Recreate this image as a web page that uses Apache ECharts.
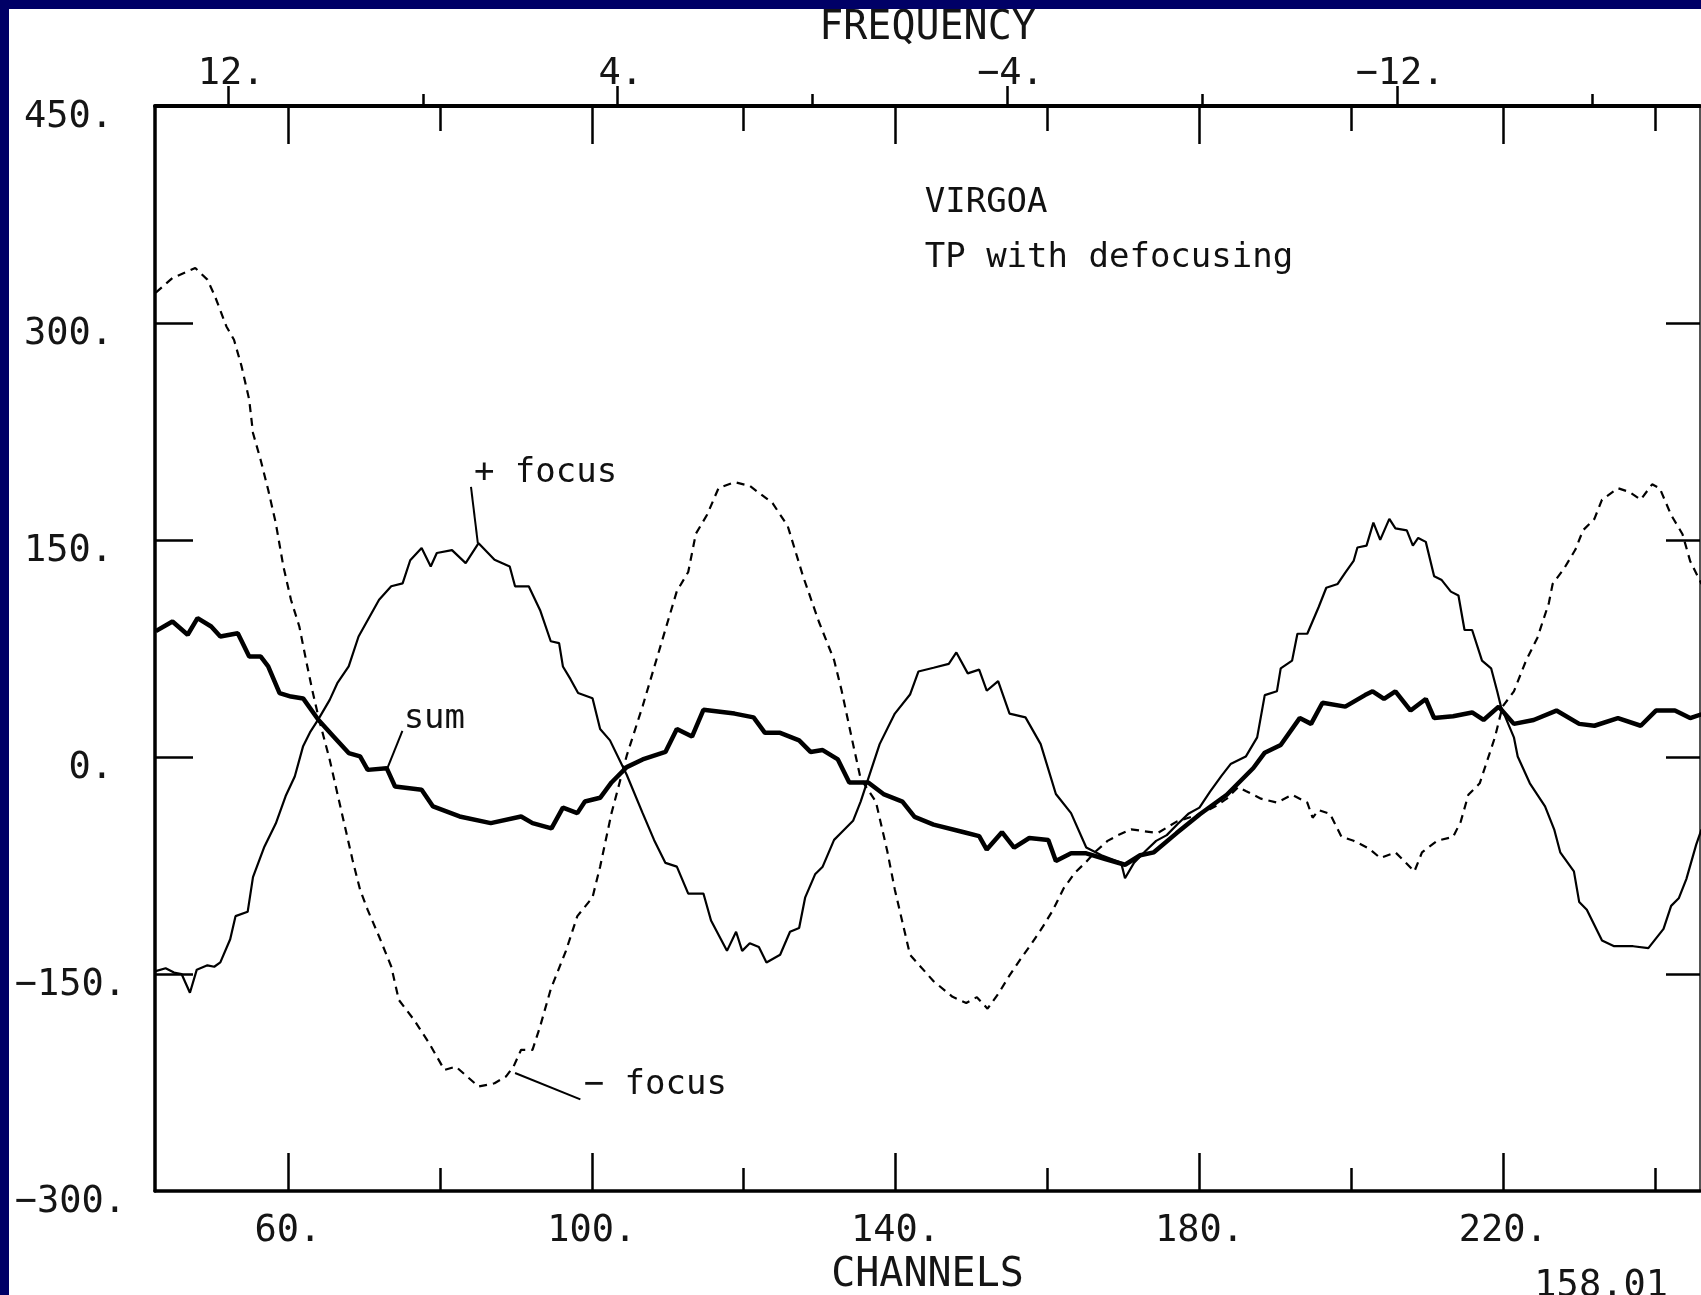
<!DOCTYPE html>
<html><head><meta charset="utf-8">
<script src="https://cdn.jsdelivr.net/npm/echarts@6/dist/echarts.min.js"></script>
<style>
html,body{margin:0;padding:0;background:#000066;width:1701px;height:1295px;overflow:hidden}
#c{position:absolute;left:9px;top:9px;width:1692px;height:1286px;background:#fff}
</style></head><body><div id="c"></div>
<script>
// ---- tick / label values ----
const channelMajor = [60, 100, 140, 180, 220];
const channelMinor = [80, 120, 160, 200, 240];
const freqMajor = [12, 4, -4, -12];
const freqMinor = [8, 0, -8, -16];
const yTicks = [-150, 0, 150, 300];
const yLabelsPos = [0, 150, 300, 450];
const yLabelsNeg = [-300, -150];
const channelRange = [42.5, 245.9];
const freqRange = [-18.22, 13.5];
const valueRange = [-300, 450];

// ---- series: [channel, value] ----
const plusFocus = [[42.6,-148],[43.9,-146],[45.0,-149],[46.0,-150],[47.1,-163],[48.0,-147],[49.4,-144],[50.3,-145],[51.1,-142],[52.4,-126],[53.1,-110],[54.7,-107],[55.4,-83],[56.9,-62],[58.4,-46],[59.7,-27],[60.9,-13.5],[62.0,7.5],[62.9,17],[64.0,26],[65.5,39.5],[66.5,51],[68.0,62.6],[69.3,83.3],[72.0,108.7],[73.6,118],[75.1,120],[76.1,136],[77.6,144.4],[78.8,131.7],[79.6,141],[81.6,143],[83.4,134],[85.1,147.8],[87.2,136.3],[89.2,131.7],[89.9,118],[91.7,118],[93.2,101.5],[94.6,80],[95.7,78.7],[96.2,62.6],[97.2,53.8],[98.2,44.2],[100.1,40.6],[101.1,19.4],[102.4,11.5],[104.6,-12.3],[106.7,-38.8],[108.2,-57.3],[109.7,-73.2],[111.2,-75.8],[112.7,-94.4],[114.7,-94.4],[115.7,-113],[117.8,-134],[119.0,-120.8],[119.8,-134],[120.8,-128.7],[122.0,-131.4],[123.0,-142],[124.8,-136.7],[126.1,-120.8],[127.3,-118.2],[128.1,-97],[129.4,-81.1],[130.4,-75.8],[131.9,-57.3],[132.9,-52],[134.4,-44.1],[135.4,-30.8],[136.4,-15],[137.9,8.9],[139.9,30],[141.9,43.2],[143.0,59.1],[145.0,61.7],[147.0,64.4],[148.0,72.3],[149.5,57.8],[151.0,60.4],[152.0,45.8],[153.5,52.5],[155.0,30],[157.1,27.4],[159.1,8.9],[161.1,-25.6],[163.1,-38.8],[165.1,-62.6],[167.1,-67.9],[169.7,-73.2],[170.2,-83.8],[171.4,-73],[172.9,-65],[174.3,-58],[175.7,-54],[177.1,-46.5],[178.6,-39],[180.0,-35],[181.4,-24],[182.9,-13],[184.1,-4.9],[186.1,0.3],[187.6,13.6],[188.6,42.8],[190.2,45.4],[190.7,61.3],[192.2,66.6],[192.9,85.2],[194.2,85.2],[195.7,103.7],[196.7,117.0],[198.2,119.6],[199.2,127.5],[200.3,135.5],[200.8,144.8],[202.0,146.1],[202.9,162.0],[203.8,150.1],[205.0,164.6],[205.8,158.0],[207.3,156.7],[208.1,146.1],[208.8,151.4],[209.8,148.7],[210.9,124.9],[211.9,122.3],[213.1,114.3],[214.1,111.6],[214.9,87.8],[215.9,87.8],[217.2,66.6],[218.4,61.3],[219.2,45.4],[219.7,34.8],[221.4,13.6],[221.9,0.3],[223.5,-18.2],[225.5,-34.1],[226.7,-50.0],[227.5,-65.9],[229.3,-79.1],[230.0,-100.3],[231.0,-105.6],[233.0,-126.8],[234.6,-130.8],[237.1,-130.8],[239.1,-132.1],[241.1,-118.8],[242.1,-102.9],[243.1,-97.7],[244.1,-84.4],[245.4,-60.6],[246.1,-50.0]];

const minusFocus = [[42.6,321],[44.8,331.1],[47.8,338],[49.4,330],[50.4,318.4],[51.9,297.6],[52.9,288.4],[53.9,270],[54.9,247],[55.4,224],[56.4,205.5],[57.4,184.7],[58.4,161.7],[59.4,131.7],[60.4,108.7],[61.5,90.2],[62.5,64],[63.2,46.4],[64.0,28],[65.5,-1.9],[66.5,-25],[67.5,-48],[68.5,-71],[69.5,-91.8],[70.5,-105.7],[72.0,-124.1],[73.6,-144.8],[74.6,-167.9],[76.6,-181.7],[78.6,-197.9],[80.6,-216.3],[82.1,-214],[85.1,-227.8],[87.2,-225.5],[88.7,-220.9],[89.7,-214],[90.7,-202.4],[92.2,-202.4],[93.2,-186.3],[94.6,-160.5],[96.6,-134],[98.1,-110],[100.1,-97],[101.1,-75.8],[102.6,-38.8],[104.6,0.9],[106.7,35.2],[108.2,61.7],[109.7,88.2],[111.2,114.6],[112.7,127.9],[113.7,154.3],[115.2,167.6],[116.7,186],[118.8,190],[120.8,187.4],[123.8,175.5],[125.8,159.6],[127.8,125.2],[129.9,93.5],[131.9,67],[132.9,45.8],[134.4,8.9],[135.4,-15],[137.4,-30.8],[138.9,-65],[139.9,-91.7],[141.9,-136.7],[145.0,-155],[147.5,-165.8],[149.3,-170],[150.7,-166],[152.1,-174],[153.6,-163],[155.0,-151],[156.4,-140],[157.9,-129],[159.3,-118],[160.7,-106],[162.1,-91],[163.6,-80],[165.0,-73],[166.4,-65],[167.9,-58],[169.3,-54],[171.0,-50],[174.5,-52.6],[177.0,-44.7],[180.1,-39.4],[182.1,-34.1],[183.6,-28.8],[185.1,-20.8],[186.1,-23.5],[188.1,-28.8],[190.2,-31.5],[192.2,-26.1],[194.2,-31.5],[194.9,-42.0],[195.7,-36.7],[197.2,-39.4],[198.7,-55.2],[200.3,-57.9],[202.3,-63.2],[203.8,-69.8],[205.8,-65.9],[206.8,-71.1],[208.3,-79.1],[209.3,-65.9],[211.3,-57.9],[213.4,-55.2],[214.4,-44.7],[215.4,-26.1],[216.9,-18.2],[217.9,-2.3],[218.9,13.6],[219.9,34.8],[221.4,45.4],[223.0,66.6],[224.5,82.5],[226.0,106.4],[226.5,119.6],[228.0,130.2],[229.5,143.4],[230.5,156.7],[232.0,164.6],[233.0,177.9],[235.1,185.8],[236.6,183.2],[238.1,177.9],[239.6,188.5],[240.6,185.8],[242.1,167.3],[243.6,154.0],[244.6,135.5],[246.1,119.6]];

const sumCurve = [[42.6,87],[44.8,93.7],[46.8,84.5],[48.1,96],[49.9,90.2],[51.1,83.3],[53.4,85.6],[54.9,69.5],[56.4,69.5],[57.4,62.6],[58.9,44.2],[60.4,41.8],[62.0,40.5],[64.0,25.7],[66.0,14.2],[68.0,2.7],[69.5,0.4],[70.5,-8.9],[73.0,-7.7],[74.1,-20.4],[77.6,-22.7],[79.1,-34.2],[82.6,-41.1],[86.7,-45.7],[90.7,-41.1],[92.2,-45.7],[94.7,-49.3],[96.2,-35],[98.1,-38.8],[99.1,-30.8],[101.1,-28.2],[102.6,-17.6],[104.6,-7],[106.7,-1.7],[109.7,3.5],[111.2,19.4],[113.2,14.1],[114.7,32.6],[118.8,30],[121.3,27.4],[122.8,16.7],[124.8,16.7],[127.3,11.5],[128.8,3.5],[130.4,4.8],[132.4,-1.7],[133.9,-17.6],[136.4,-17.6],[138.4,-25.6],[140.9,-30.8],[142.5,-41.4],[145.0,-46.7],[149.0,-52],[151.0,-54.7],[152.0,-64],[154.0,-52],[155.6,-62.6],[157.6,-56],[160.1,-57.3],[161.1,-71.9],[163.1,-66.6],[165.1,-66.6],[167.6,-70.5],[170.2,-74.5],[172.2,-67.9],[174.0,-65.9],[177.0,-52.6],[180.1,-39.4],[183.6,-26.1],[187.1,-7.6],[188.6,3.0],[190.7,8.3],[193.2,26.9],[194.7,22.9],[196.2,37.5],[199.2,34.8],[201.8,42.8],[202.8,45.4],[204.3,40.1],[205.8,45.4],[207.8,32.1],[209.8,40.1],[210.9,26.9],[213.4,28.2],[215.9,30.8],[217.4,25.6],[219.4,34.8],[221.4,22.9],[224.0,25.6],[227.0,32.1],[230.0,22.9],[232.0,21.6],[235.1,26.9],[238.1,21.6],[240.1,32.1],[242.6,32.1],[244.6,26.9],[246.1,29.5]];

// ---- annotations (data coordinates) ----
const noteText = ['VIRGOA', 'TP with defocusing', '+ focus', 'sum', '\u2212 focus'];
const noteAt = [[143.9, 382.7], [143.9, 344.7], [84.55, 195.8], [75.3, 25.5], [99.0, -226.9]];
const leaderFrom = [[84.1, 186.8], [75.07, 18.0], [89.9, -218.4]];
const leaderTo = [[85.0, 147.9], [73.03, -8.5], [98.5, -236.7]];

const FONT = '"DejaVu Sans Mono", "Liberation Mono", monospace';
const tickFont = { fontFamily: FONT, fontSize: 37, color: '#151515' };
const nameFont = { fontFamily: FONT, fontSize: 40, color: '#151515' };
const tickStyle = { color: '#000', width: 2.5 };
const fmt = v => (v < 0 ? '\u2212' + (-v) : String(v)) + '.';

const chart = echarts.init(document.getElementById('c'), null, { renderer: 'canvas' });

function chanAxis(pos, opts) {
  return Object.assign({
    type: 'value', position: pos, min: channelRange[0], max: channelRange[1],
    axisLine: { show: false, onZero: false },
    splitLine: { show: false }, axisLabel: { show: false }
  }, opts);
}
function freqAxis(opts) {
  return Object.assign({
    type: 'value', position: 'top', min: freqRange[0], max: freqRange[1], inverse: true,
    axisLine: { show: false, onZero: false },
    splitLine: { show: false }, axisLabel: { show: false }
  }, opts);
}
function valAxis(pos, opts) {
  return Object.assign({
    type: 'value', position: pos, min: valueRange[0], max: valueRange[1], interval: 150,
    axisLine: { show: false, onZero: false },
    axisTick: { show: false },
    splitLine: { show: false }, axisLabel: { show: false }
  }, opts);
}

const option = {
  animation: false,
  backgroundColor: '#ffffff',
  title: {
    text: '158.01', right: 33, top: 1259, padding: 0,
    textStyle: { fontFamily: FONT, fontSize: 37, fontWeight: 'normal', color: '#151515' }
  },
  grid: { left: 146, right: 1, top: 97, bottom: 104, containLabel: false, outerBoundsMode: 'none' },
  xAxis: [
    chanAxis('bottom', {
      axisLine: { show: true, onZero: false, lineStyle: { color: '#000', width: 3.5 } },
      axisTick: { show: true, inside: true, length: 38, customValues: channelMajor, lineStyle: tickStyle },
      axisLabel: Object.assign({ show: true, customValues: channelMajor, formatter: fmt, margin: 22 }, tickFont),
      name: 'CHANNELS', nameLocation: 'middle', nameGap: 65, nameTextStyle: nameFont
    }),
    chanAxis('bottom', {
      axisTick: { show: true, inside: true, length: 23, customValues: channelMinor, lineStyle: tickStyle }
    }),
    chanAxis('top', {
      axisLine: { show: true, onZero: false, lineStyle: { color: '#000', width: 4 } },
      axisTick: { show: true, inside: true, length: 38, customValues: channelMajor, lineStyle: tickStyle }
    }),
    chanAxis('top', {
      axisTick: { show: true, inside: true, length: 25, customValues: channelMinor, lineStyle: tickStyle }
    }),
    freqAxis({
      axisTick: { show: true, inside: false, length: 20, customValues: freqMajor, lineStyle: tickStyle },
      axisLabel: Object.assign({ show: true, customValues: freqMajor, formatter: fmt, margin: 13, padding: [0, 0, 0, 6] }, tickFont),
      name: 'FREQUENCY', nameLocation: 'middle', nameGap: 57, nameTextStyle: nameFont
    }),
    freqAxis({
      axisTick: { show: true, inside: false, length: 12, customValues: freqMinor, lineStyle: tickStyle }
    })
  ],
  yAxis: [
    valAxis('left', {
      axisLine: { show: true, onZero: false, lineStyle: { color: '#000', width: 3.5 } },
      axisTick: { show: true, inside: true, length: 38, customValues: yTicks, lineStyle: tickStyle },
      axisLabel: Object.assign({ show: true, customValues: yLabelsPos, formatter: fmt, margin: 42, verticalAlign: 'top', lineHeight: 22 }, tickFont)
    }),
    valAxis('right', {
      axisLine: { show: true, onZero: false, lineStyle: { color: '#555', width: 2 } },
      axisTick: { show: true, inside: true, length: 34, customValues: yTicks, lineStyle: tickStyle }
    }),
    valAxis('left', {
      axisLabel: Object.assign({ show: true, customValues: yLabelsNeg, formatter: fmt, margin: 29, verticalAlign: 'top', lineHeight: 22 }, tickFont)
    })
  ],
  series: [
    {
      type: 'line', name: '+ focus', data: plusFocus, xAxisIndex: 0, yAxisIndex: 0,
      symbol: 'none', showSymbol: false, lineStyle: { color: '#000', width: 2.2 }, z: 3
    },
    {
      type: 'line', name: '\u2212 focus', data: minusFocus, xAxisIndex: 0, yAxisIndex: 0,
      symbol: 'none', showSymbol: false, lineStyle: { color: '#000', width: 2.2, type: [8, 6] }, z: 2
    },
    {
      type: 'line', name: 'sum', data: sumCurve, xAxisIndex: 0, yAxisIndex: 0,
      symbol: 'none', showSymbol: false, lineStyle: { color: '#000', width: 4.5 }, z: 4,
      markLine: {
        silent: true, symbol: ['none', 'none'],
        lineStyle: { color: '#000', width: 2, type: 'solid' },
        label: { show: false },
        data: leaderFrom.map((f, i) => [{ coord: f }, { coord: leaderTo[i] }])
      },
      markPoint: {
        silent: true, symbol: 'circle', symbolSize: 1,
        itemStyle: { color: 'rgba(0,0,0,0)' },
        label: {
          show: true, position: [0, 0], align: 'left', verticalAlign: 'middle',
          fontFamily: FONT, fontSize: 34, color: '#111', formatter: '{b}'
        },
        data: noteText.map((t, i) => ({ name: t, coord: noteAt[i] }))
      }
    }
  ]
};
chart.setOption(option);
</script>
</body></html>
